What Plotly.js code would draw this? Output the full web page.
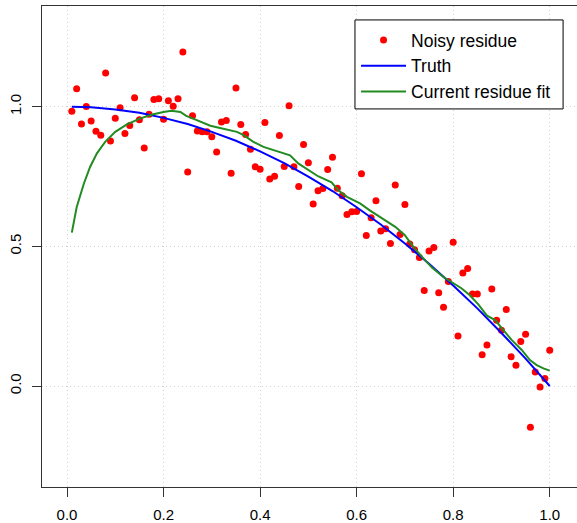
<!DOCTYPE html>
<html>
<head>
<meta charset="utf-8">
<script src="https://cdn.plot.ly/plotly-3.0.1.min.js"></script>
<style>
  html, body { margin: 0; padding: 0; background: #fff; }
  #chart { width: 577px; height: 523px; }
</style>
</head>
<body>
<div id="chart"></div>
<script>
// Noisy residue observations, one per grid point x = 0.01 ... 1.00
const noisyX = [
  0.01, 0.02, 0.03, 0.04, 0.05, 0.06, 0.07, 0.08, 0.09, 0.10,
  0.11, 0.12, 0.13, 0.14, 0.15, 0.16, 0.17, 0.18, 0.19, 0.20,
  0.21, 0.22, 0.23, 0.24, 0.25, 0.26, 0.27, 0.28, 0.29, 0.30,
  0.31, 0.32, 0.33, 0.34, 0.35, 0.36, 0.37, 0.38, 0.39, 0.40,
  0.41, 0.42, 0.43, 0.44, 0.45, 0.46, 0.47, 0.48, 0.49, 0.50,
  0.51, 0.52, 0.53, 0.54, 0.55, 0.56, 0.57, 0.58, 0.59, 0.60,
  0.61, 0.62, 0.63, 0.64, 0.65, 0.66, 0.67, 0.68, 0.69, 0.70,
  0.71, 0.72, 0.73, 0.74, 0.75, 0.76, 0.77, 0.78, 0.79, 0.80,
  0.81, 0.82, 0.83, 0.84, 0.85, 0.86, 0.87, 0.88, 0.89, 0.90,
  0.91, 0.92, 0.93, 0.94, 0.95, 0.96, 0.97, 0.98, 0.99, 1.00
];
const noisyY = [
  0.984, 1.064, 0.938, 1.001, 0.949, 0.912, 0.898, 1.121, 0.877, 0.959,
  0.996, 0.904, 0.933, 1.032, 0.953, 0.852, 0.973, 1.026, 1.028, 0.955,
  1.021, 1.002, 1.028, 1.196, 0.766, 0.968, 0.913, 0.910, 0.910, 0.892,
  0.838, 0.945, 0.951, 0.762, 1.067, 0.936, 0.900, 0.848, 0.785, 0.776,
  0.943, 0.741, 0.751, 0.897, 0.786, 1.003, 0.785, 0.714, 0.865, 0.799,
  0.652, 0.699, 0.707, 0.775, 0.819, 0.708, 0.681, 0.614, 0.624, 0.625,
  0.760, 0.539, 0.602, 0.663, 0.555, 0.563, 0.510, 0.720, 0.542, 0.650,
  0.508, 0.488, 0.460, 0.342, 0.483, 0.496, 0.334, 0.282, 0.374, 0.515,
  0.179, 0.405, 0.421, 0.329, 0.329, 0.112, 0.147, 0.347, 0.235, 0.200,
  0.274, 0.105, 0.074, 0.159, 0.185, -0.148, 0.050, -0.004, 0.027, 0.128
];

// True underlying residue curve
const truthX = [0.01, 0.05, 0.10, 0.15, 0.20, 0.25, 0.30, 0.35, 0.40, 0.45, 0.50,
                0.55, 0.60, 0.65, 0.70, 0.75, 0.80, 0.85, 0.90, 0.95, 1.00];
const truthY = [1.000, 0.998, 0.990, 0.978, 0.960, 0.938, 0.910, 0.878, 0.840, 0.798, 0.750,
                0.698, 0.640, 0.578, 0.510, 0.438, 0.360, 0.278, 0.190, 0.098, 0.000];

// Current smoothed fit of the residue
const fitX = [
  0.010, 0.020, 0.035, 0.048, 0.062, 0.079, 0.100, 0.124, 0.152, 0.179,
  0.200, 0.216, 0.235, 0.247, 0.260, 0.276, 0.297, 0.317, 0.338, 0.352,
  0.366, 0.386, 0.407, 0.428, 0.448, 0.462, 0.479, 0.500, 0.520, 0.548,
  0.562, 0.580, 0.607, 0.628, 0.655, 0.680, 0.700, 0.714, 0.735, 0.756,
  0.779, 0.796, 0.817, 0.834, 0.852, 0.870, 0.887, 0.904, 0.921, 0.942,
  0.959, 0.973, 0.987, 1.000
];
const fitY = [
  0.549, 0.640, 0.725, 0.785, 0.833, 0.874, 0.910, 0.937, 0.958, 0.973,
  0.981, 0.985, 0.981, 0.967, 0.958, 0.946, 0.932, 0.924, 0.916, 0.910,
  0.898, 0.874, 0.856, 0.844, 0.835, 0.826, 0.797, 0.773, 0.751, 0.729,
  0.701, 0.677, 0.654, 0.628, 0.598, 0.570, 0.540, 0.506, 0.463, 0.424,
  0.391, 0.373, 0.350, 0.326, 0.292, 0.252, 0.236, 0.200, 0.165, 0.129,
  0.093, 0.075, 0.063, 0.055
];

const xTicks = [0.0, 0.2, 0.4, 0.6, 0.8, 1.0];
const xTickText = ['0.0', '0.2', '0.4', '0.6', '0.8', '1.0'];
const yTicks = [0.0, 0.5, 1.0];
const yTickText = ['0.0', '0.5', '1.0'];

const FONT = '"Liberation Sans", Arial, Helvetica, sans-serif';

const traces = [
  {
    x: noisyX, y: noisyY, type: 'scatter', mode: 'markers',
    name: 'Noisy residue',
    marker: { color: '#ff0000', size: 7, line: { width: 0 } }
  },
  {
    x: truthX, y: truthY, type: 'scatter', mode: 'lines',
    name: 'Truth',
    line: { color: '#0000ff', width: 2 }
  },
  {
    x: fitX, y: fitY, type: 'scatter', mode: 'lines',
    name: 'Current residue fit',
    line: { color: '#228b22', width: 2 }
  }
];

const axisCommon = {
  showline: true, linecolor: '#333', linewidth: 1,
  ticks: 'outside', ticklen: 9, tickcolor: '#333', tickwidth: 1,
  ticklabelstandoff: 5,
  showgrid: true, gridcolor: '#d0d0d0', gridwidth: 1, griddash: '1px,3px',
  zeroline: false,
  tickfont: { family: FONT, size: 15, color: '#000' }
};

// Framed white panel behind the legend entries
const legendFrame = {
  type: 'rect', xref: 'paper', yref: 'paper', layer: 'above',
  x0: 0.585, x1: 0.974, y0: 0.786, y1: 0.971,
  line: { color: '#000', width: 1 }, fillcolor: '#fff'
};

const layout = {
  width: 577, height: 523,
  margin: { l: 42, r: 0, t: 6, b: 36, pad: 0 },
  paper_bgcolor: '#fff', plot_bgcolor: '#fff',
  font: { family: FONT, color: '#000' },
  showlegend: true,
  shapes: [legendFrame],
  legend: {
    x: 0.587, y: 0.9667, xanchor: 'left', yanchor: 'top',
    bgcolor: 'rgba(0,0,0,0)', borderwidth: 0,
    font: { family: FONT, size: 17.5, color: '#000' },
    itemwidth: 45,
    tracegroupgap: 0
  },
  xaxis: Object.assign({}, axisCommon, {
    range: [-0.0518, 1.0565],
    tickmode: 'array', tickvals: xTicks, ticktext: xTickText,
    mirror: true
  }),
  yaxis: Object.assign({}, axisCommon, {
    range: [-0.3616, 1.3605],
    tickmode: 'array', tickvals: yTicks, ticktext: yTickText,
    tickangle: -90
  })
};

Plotly.newPlot('chart', traces, layout, { displayModeBar: false, staticPlot: true });
</script>
</body>
</html>
